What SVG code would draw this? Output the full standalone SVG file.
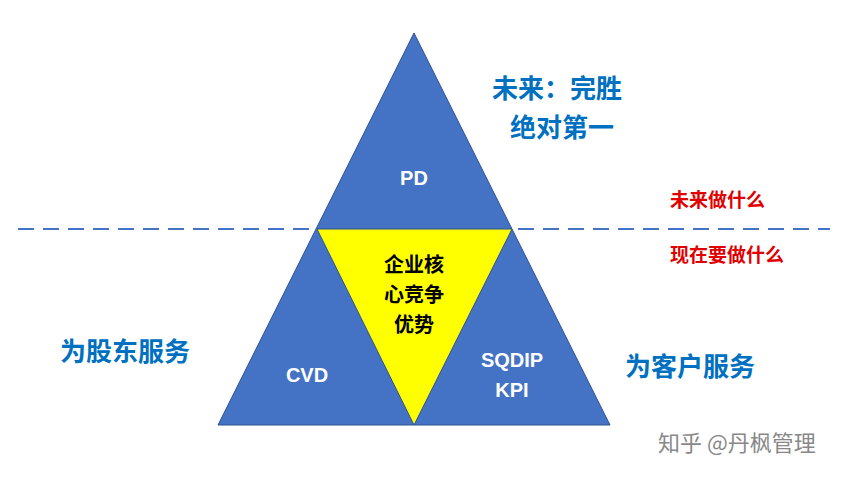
<svg xmlns="http://www.w3.org/2000/svg" width="865" height="478" viewBox="0 0 865 478">
<style>
.tri{fill:#4472C4;stroke:#2F528F;stroke-width:1}
.w{fill:#fff;font-family:"Liberation Sans","Noto Sans CJK SC",sans-serif;font-weight:bold;font-size:20px;text-anchor:middle}
.k{fill:#000;font-family:"Noto Sans CJK SC",sans-serif;font-weight:bold;font-size:20px;text-anchor:middle}
.b{fill:#0070C0;font-family:"Noto Sans CJK SC",sans-serif;font-weight:bold;font-size:26px}
.r{fill:#E00000;font-family:"Noto Sans CJK SC",sans-serif;font-weight:bold;font-size:19px}
</style>
<rect width="865" height="478" fill="#fff"/>
<g id="pyramid"><polygon class="tri" points="414,33 218,425 610,425"/><text class="w" x="414" y="185">PD</text></g>
<g id="connectors"><line x1="18" y1="229" x2="830" y2="229" stroke="#4472C4" stroke-width="2" stroke-dasharray="16,9"/></g>
<g id="core"><polygon points="317,229 512,229 414,425" fill="#FFFF00" stroke="#2F528F" stroke-width="1"/>
<text class="k" x="414" y="272">企业核</text><text class="k" x="414" y="302">心竞争</text><text class="k" x="414" y="332">优势</text></g>
<g id="cvd"><text class="w" x="307" y="382">CVD</text></g>
<g id="sqdip"><text class="w" x="512" y="367">SQDIP</text><text class="w" x="512" y="397">KPI</text></g>
<g id="labels">
<text class="b" x="492" y="98">未来：完胜</text>
<text class="b" x="510" y="137">绝对第一</text>
<text class="r" x="670" y="207">未来做什么</text>
<text class="r" x="670" y="262">现在要做什么</text>
<text class="b" x="60" y="361">为股东服务</text>
<text class="b" x="625" y="376">为客户服务</text>
<text x="658" y="451" fill="#888" font-family="Noto Sans CJK SC,sans-serif" font-size="22">知乎 @丹枫管理</text>
</g>
</svg>
